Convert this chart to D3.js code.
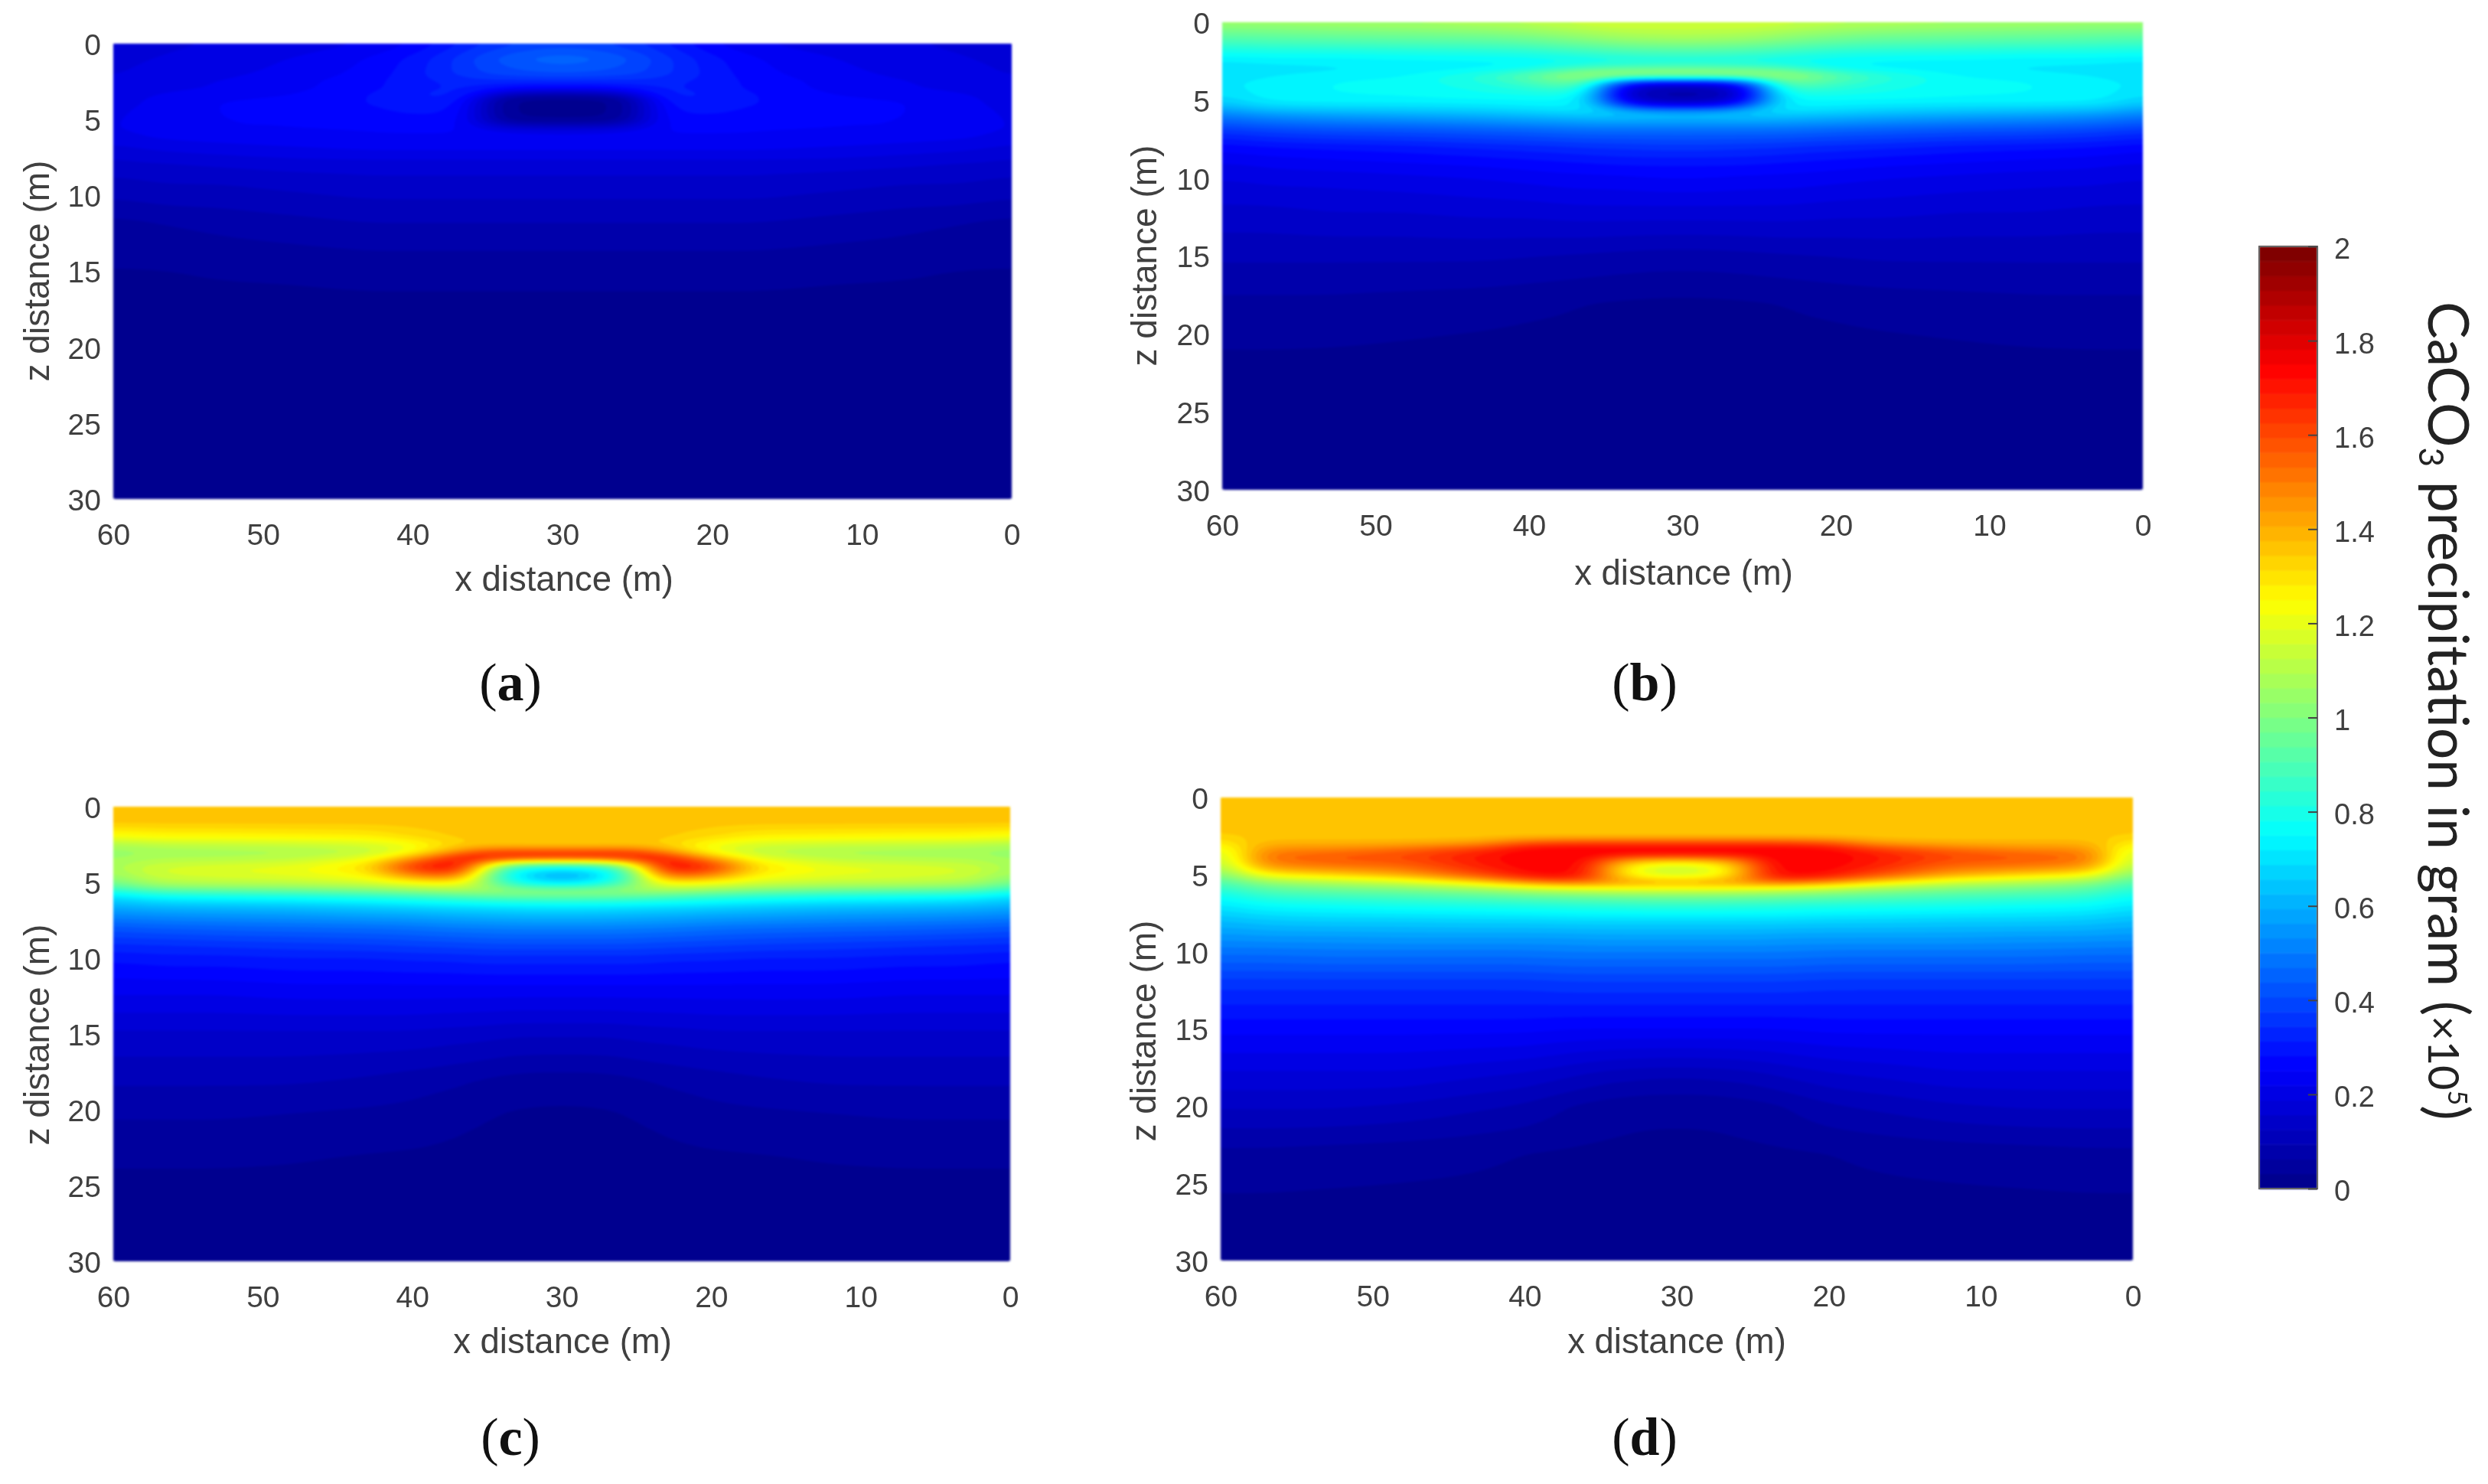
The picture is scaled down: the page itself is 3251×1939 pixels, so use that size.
<!DOCTYPE html>
<html>
<head>
<meta charset="utf-8">
<script src="https://cdn.jsdelivr.net/npm/d3@7"></script>
<style>
  html, body { margin: 0; background: #fff; }
  svg { display: block; }
  text { font-family: "Liberation Sans", Arial, sans-serif; fill: #404040; filter: blur(0.6px); }
  .panel-tag { font-family: "Liberation Serif", serif; fill: #111; font-size: 70px; }
  .panel-tag tspan { font-weight: bold; }
  .cb-title { font-family: Lato, sans-serif; fill: #222; font-size: 73px; }
</style>
</head>
<body>
<div id="chart"></div>
<script>
var xCols = [60, 59, 57, 53, 48, 43, 40, 37, 36, 35, 34, 32, 30];
var zRows = [0, 1, 2, 2.5, 3, 3.25, 3.5, 3.75, 4, 4.5, 5, 5.25, 5.5, 5.75, 6, 6.5, 7, 8, 9, 10, 12, 15, 18, 20, 23, 26, 30];

var xTicks = [60, 50, 40, 30, 20, 10, 0];
var zTicks = [0, 5, 10, 15, 20, 25, 30];
var cbTicks = [0, 0.2, 0.4, 0.6, 0.8, 1, 1.2, 1.4, 1.6, 1.8, 2];
var panelNames = ["a", "b", "c", "d"];

// CaCO3 values (x 10^5 g) read against the colour bar, one line per z row
var valuesA = [
  [.17, .17, .18, .19, .20, .22, .25, .31, .33, .35, .36, .38, .39],
  [.18, .18, .19, .20, .22, .25, .29, .35, .38, .40, .42, .45, .46],
  [.18, .19, .20, .21, .23, .26, .30, .35, .37, .38, .39, .40, .41],
  [.19, .20, .21, .22, .24, .27, .30, .32, .33, .33, .33, .33, .33],
  [.19, .20, .21, .22, .24, .27, .30, .32, .31, .29, .27, .25, .25],
  [.20, .21, .22, .23, .25, .28, .31, .33, .30, .24, .17, .12, .11],
  [.20, .21, .22, .24, .25, .28, .31, .32, .28, .14, .05, .03, .03],
  [.20, .21, .23, .25, .26, .28, .31, .31, .25, .09, .03, .02, .02],
  [.20, .21, .23, .25, .27, .28, .30, .30, .24, .08, .03, .02, .02],
  [.20, .22, .24, .25, .26, .27, .29, .28, .24, .08, .03, .02, .02],
  [.21, .22, .24, .25, .25, .26, .27, .27, .24, .10, .04, .03, .03],
  [.21, .22, .24, .25, .25, .26, .27, .26, .24, .14, .09, .07, .07],
  [.21, .22, .24, .25, .25, .25, .26, .26, .24, .20, .17, .15, .15],
  [.21, .22, .24, .25, .25, .25, .25, .25, .25, .23, .21, .20, .20],
  [.20, .21, .23, .24, .24, .25, .25, .25, .25, .24, .24, .23, .23],
  [.19, .20, .21, .22, .23, .24, .24, .24, .24, .24, .24, .24, .24],
  [.17, .18, .19, .20, .21, .22, .22, .22, .22, .22, .22, .22, .22],
  [.14, .15, .15, .16, .17, .17, .17, .17, .17, .17, .17, .17, .17],
  [.12, .12, .13, .13, .14, .15, .15, .15, .15, .15, .15, .15, .15],
  [.10, .10, .11, .11, .12, .13, .13, .13, .13, .13, .13, .13, .13],
  [.05, .05, .06, .07, .08, .09, .09, .09, .09, .09, .09, .09, .09],
  [.03, .03, .03, .034, .036, .04, .04, .04, .04, .04, .04, .04, .04],
  [.02, .02, .02, .02, .02, .02, .02, .02, .02, .02, .02, .02, .02],
  [.015, .015, .015, .015, .015, .015, .015, .015, .015, .015, .015, .015, .015],
  [.012, .012, .012, .012, .012, .012, .012, .012, .012, .012, .012, .012, .012],
  [.01, .01, .01, .01, .01, .01, .01, .01, .01, .01, .01, .01, .01],
  [.01, .01, .01, .01, .01, .01, .01, .01, .01, .01, .01, .01, .01]
];

var valuesB = [
  [1.06, 1.06, 1.06, 1.07, 1.08, 1.10, 1.12, 1.15, 1.16, 1.17, 1.17, 1.17, 1.17],
  [.92, .92, .93, .94, .95, .96, .98, 1.02, 1.03, 1.05, 1.06, 1.07, 1.08],
  [.77, .77, .78, .78, .79, .80, .81, .84, .85, .86, .87, .88, .88],
  [.72, .72, .73, .73, .74, .74, .75, .76, .77, .77, .78, .79, .79],
  [.68, .69, .70, .71, .72, .74, .77, .87, .90, .92, .93, .94, .95],
  [.68, .69, .71, .72, .74, .80, .90, 1.04, 1.07, 1.08, 1.09, 1.09, 1.09],
  [.69, .70, .72, .74, .75, .83, .93, 1.05, 1.07, 1.03, 1.00, .98, .98],
  [.70, .71, .73, .75, .76, .82, .90, 1.00, .95, .70, .50, .40, .40],
  [.70, .72, .74, .75, .76, .80, .86, .94, .85, .50, .25, .15, .15],
  [.68, .71, .74, .75, .76, .78, .80, .82, .72, .38, .15, .08, .07],
  [.66, .69, .73, .74, .74, .75, .75, .75, .68, .42, .20, .10, .09],
  [.62, .66, .70, .71, .71, .72, .73, .74, .70, .52, .32, .20, .19],
  [.58, .62, .66, .67, .68, .69, .71, .72, .71, .62, .47, .38, .37],
  [.53, .56, .60, .62, .63, .65, .67, .69, .69, .67, .63, .59, .57],
  [.49, .51, .54, .56, .58, .60, .62, .64, .65, .65, .64, .64, .63],
  [.42, .44, .46, .48, .49, .51, .53, .54, .55, .55, .55, .55, .55],
  [.35, .36, .38, .40, .41, .43, .44, .46, .46, .46, .46, .46, .46],
  [.26, .27, .28, .29, .30, .32, .33, .34, .35, .35, .35, .36, .36],
  [.22, .22, .23, .24, .25, .26, .27, .28, .28, .29, .29, .29, .29],
  [.19, .19, .20, .20, .21, .22, .23, .24, .24, .24, .24, .25, .25],
  [.15, .15, .15, .16, .16, .17, .17, .18, .18, .18, .18, .18, .18],
  [.10, .10, .10, .10, .10, .10, .095, .09, .09, .085, .085, .08, .08],
  [.055, .055, .055, .055, .05, .045, .04, .034, .03, .03, .028, .026, .025],
  [.037, .037, .037, .036, .033, .03, .026, .023, .022, .02, .02, .02, .02],
  [.02, .02, .02, .02, .02, .02, .02, .02, .02, .02, .02, .02, .02],
  [.015, .015, .015, .015, .015, .015, .015, .015, .015, .015, .015, .015, .015],
  [.01, .01, .01, .01, .01, .01, .01, .01, .01, .01, .01, .01, .01]
];

var valuesC = [
  [1.36, 1.36, 1.36, 1.36, 1.36, 1.36, 1.36, 1.36, 1.36, 1.36, 1.36, 1.36, 1.36],
  [1.36, 1.36, 1.36, 1.36, 1.36, 1.36, 1.36, 1.36, 1.36, 1.36, 1.36, 1.36, 1.36],
  [1.22, 1.23, 1.25, 1.25, 1.26, 1.27, 1.32, 1.35, 1.36, 1.36, 1.36, 1.36, 1.36],
  [1.08, 1.10, 1.12, 1.13, 1.14, 1.16, 1.22, 1.33, 1.34, 1.34, 1.34, 1.33, 1.33],
  [1.03, 1.05, 1.06, 1.07, 1.08, 1.12, 1.22, 1.45, 1.55, 1.60, 1.62, 1.62, 1.62],
  [1.04, 1.06, 1.08, 1.08, 1.10, 1.16, 1.35, 1.68, 1.72, 1.73, 1.73, 1.72, 1.72],
  [1.05, 1.08, 1.10, 1.11, 1.13, 1.22, 1.50, 1.72, 1.70, 1.60, 1.50, 1.45, 1.45],
  [1.05, 1.10, 1.13, 1.15, 1.17, 1.27, 1.60, 1.75, 1.62, 1.35, 1.12, 1.00, 1.00],
  [1.05, 1.12, 1.16, 1.18, 1.21, 1.30, 1.68, 1.75, 1.60, 1.10, .90, .78, .76],
  [1.02, 1.10, 1.16, 1.18, 1.20, 1.26, 1.50, 1.60, 1.35, .95, .82, .62, .56],
  [.95, 1.03, 1.10, 1.12, 1.13, 1.17, 1.25, 1.28, 1.20, .98, .86, .72, .68],
  [.88, .97, 1.03, 1.05, 1.06, 1.10, 1.15, 1.18, 1.15, 1.05, .95, .84, .82],
  [.80, .88, .93, .95, .97, 1.00, 1.05, 1.08, 1.08, 1.06, 1.05, 1.03, 1.03],
  [.72, .78, .83, .84, .86, .90, .94, .98, 1.00, 1.00, 1.00, 1.00, 1.00],
  [.67, .71, .74, .76, .77, .80, .83, .87, .88, .90, .91, .92, .92],
  [.60, .62, .64, .65, .66, .68, .70, .72, .72, .73, .73, .74, .74],
  [.54, .55, .56, .57, .58, .60, .61, .63, .63, .64, .64, .65, .65],
  [.42, .43, .44, .45, .46, .47, .48, .50, .50, .50, .51, .51, .51],
  [.34, .35, .35, .36, .37, .38, .39, .40, .40, .41, .41, .41, .41],
  [.29, .29, .30, .30, .31, .31, .32, .32, .33, .33, .33, .33, .33],
  [.23, .23, .23, .23, .24, .24, .24, .24, .24, .24, .24, .24, .24],
  [.15, .15, .15, .15, .15, .15, .15, .14, .14, .14, .13, .13, .13],
  [.10, .10, .10, .10, .10, .09, .08, .07, .065, .06, .055, .05, .05],
  [.07, .07, .07, .07, .065, .06, .055, .042, .038, .034, .032, .029, .028],
  [.036, .036, .036, .036, .034, .03, .028, .024, .022, .021, .02, .02, .02],
  [.02, .02, .02, .02, .02, .02, .02, .02, .02, .02, .02, .02, .02],
  [.01, .01, .01, .01, .01, .01, .01, .01, .01, .01, .01, .01, .01]
];

var valuesD = [
  [1.36, 1.36, 1.36, 1.36, 1.36, 1.36, 1.36, 1.36, 1.36, 1.36, 1.36, 1.36, 1.36],
  [1.36, 1.36, 1.36, 1.36, 1.36, 1.36, 1.36, 1.36, 1.36, 1.36, 1.36, 1.36, 1.36],
  [1.35, 1.36, 1.36, 1.36, 1.36, 1.36, 1.36, 1.36, 1.36, 1.36, 1.36, 1.36, 1.36],
  [1.33, 1.35, 1.35, 1.35, 1.35, 1.35, 1.35, 1.35, 1.35, 1.35, 1.35, 1.35, 1.35],
  [1.22, 1.33, 1.40, 1.40, 1.40, 1.44, 1.60, 1.65, 1.65, 1.65, 1.65, 1.65, 1.65],
  [1.15, 1.30, 1.45, 1.45, 1.50, 1.60, 1.73, 1.74, 1.74, 1.74, 1.74, 1.74, 1.74],
  [1.10, 1.28, 1.50, 1.52, 1.57, 1.67, 1.75, 1.75, 1.75, 1.75, 1.75, 1.75, 1.75],
  [1.05, 1.28, 1.52, 1.56, 1.60, 1.70, 1.75, 1.75, 1.75, 1.73, 1.70, 1.70, 1.70],
  [1.02, 1.28, 1.53, 1.57, 1.60, 1.70, 1.75, 1.75, 1.75, 1.62, 1.50, 1.42, 1.40],
  [.98, 1.22, 1.45, 1.50, 1.53, 1.68, 1.74, 1.75, 1.72, 1.55, 1.32, 1.17, 1.12],
  [.93, 1.10, 1.27, 1.33, 1.42, 1.60, 1.72, 1.74, 1.70, 1.55, 1.32, 1.17, 1.14],
  [.90, 1.02, 1.14, 1.20, 1.28, 1.48, 1.63, 1.70, 1.65, 1.52, 1.40, 1.30, 1.28],
  [.87, .95, 1.05, 1.10, 1.16, 1.30, 1.45, 1.53, 1.50, 1.47, 1.45, 1.44, 1.43],
  [.83, .90, .97, 1.02, 1.06, 1.15, 1.25, 1.32, 1.33, 1.32, 1.32, 1.31, 1.30],
  [.80, .86, .92, .95, .98, 1.03, 1.08, 1.12, 1.13, 1.14, 1.15, 1.16, 1.16],
  [.74, .78, .83, .85, .87, .90, .92, .94, .94, .95, .95, .96, .96],
  [.70, .73, .76, .77, .79, .80, .81, .82, .83, .83, .83, .84, .84],
  [.62, .63, .65, .66, .66, .67, .67, .68, .68, .68, .68, .68, .68],
  [.55, .55, .56, .56, .57, .57, .57, .57, .58, .58, .58, .58, .58],
  [.48, .48, .48, .49, .49, .49, .49, .50, .50, .50, .50, .50, .50],
  [.36, .36, .36, .36, .36, .36, .36, .37, .37, .37, .37, .37, .37],
  [.26, .26, .26, .26, .26, .26, .26, .25, .25, .25, .25, .25, .25],
  [.18, .18, .18, .18, .18, .16, .15, .13, .12, .11, .11, .10, .10],
  [.13, .13, .13, .13, .12, .10, .09, .06, .055, .05, .045, .04, .04],
  [.055, .055, .055, .05, .045, .038, .031, .028, .026, .025, .024, .022, .022],
  [.028, .028, .028, .026, .024, .022, .02, .02, .02, .02, .02, .02, .02],
  [.01, .01, .01, .01, .01, .01, .01, .01, .01, .01, .01, .01, .01]
];

var panelValues = [valuesA, valuesB, valuesC, valuesD];

// jet colour stops
var jetDomain = [0, 0.25, 0.75, 1.25, 1.75, 2];
var jetRange = ["#00008f", "#0000ff", "#00ffff", "#ffff00", "#ff0000", "#800000"];
var color = d3.scaleLinear().domain(jetDomain).range(jetRange).clamp(true);
var bands = d3.range(64).map(i => i * 2 / 64);
var bandColor = d => color(d * 64 / 63); // first band #00008f, last #800000, like jet(64)

// where each panel sits on the page
var layout = [
  { left: 148, right: 1322, top: 57, bottom: 652, xLabelX: 737, xLabelY: 772, yLabelX: 49, yLabelY: 354, tagX: 667, tagY: 915 },
  { left: 1597, right: 2800, top: 29, bottom: 640, xLabelX: 2200, xLabelY: 764, yLabelX: 1496, yLabelY: 334, tagX: 2149, tagY: 915 },
  { left: 148, right: 1320, top: 1054, bottom: 1648, xLabelX: 735, xLabelY: 1768, yLabelX: 49, yLabelY: 1352, tagX: 667, tagY: 1901 },
  { left: 1595, right: 2787, top: 1042, bottom: 1647, xLabelX: 2191, xLabelY: 1768, yLabelX: 1495, yLabelY: 1347, tagX: 2149, tagY: 1901 }
];

var width = 3251, height = 1939;
var svg = d3.select("#chart").append("svg")
  .attr("width", width)
  .attr("height", height);

// shading between the read values, like shading interp in the original
function sample(rows, x, z) {
  var xm = x > 30 ? x : 60 - x;
  var i = Math.max(1, Math.min(xCols.length - 1, xCols.findIndex(c => c <= xm)));
  var j = Math.max(1, Math.min(zRows.length - 1, d3.bisectLeft(zRows, z)));
  var tx = (xCols[i - 1] - xm) / (xCols[i - 1] - xCols[i]);
  var tz = (z - zRows[j - 1]) / (zRows[j] - zRows[j - 1]);
  var top = rows[j - 1][i - 1] * (1 - tx) + rows[j - 1][i] * tx;
  var bot = rows[j][i - 1] * (1 - tx) + rows[j][i] * tx;
  return top * (1 - tz) + bot * tz;
}

var nx = 240, nz = 300;
panelValues.forEach((rows, p) => {
  var box = layout[p];
  var x = d3.scaleLinear().domain([60, 0]).range([box.left, box.right]);
  var z = d3.scaleLinear().domain([0, 30]).range([box.top, box.bottom]);

  var gridX = d3.scaleLinear().domain([0, nx]).range([60, 0]);
  var gridZ = d3.scaleLinear().domain([0, nz]).range([0, 30]);

  var fine = new Float64Array(nx * nz);
  for (var j = 0; j < nz; j++) {
    for (var i = 0; i < nx; i++) {
      fine[j * nx + i] = sample(rows, gridX(i + 0.5), gridZ(j + 0.5));
    }
  }
  d3.blur2({ data: fine, width: nx, height: nz }, 4, 1.5);

  var contours = d3.contours().size([nx, nz]).smooth(true).thresholds(bands)(fine);
  var path = d3.geoPath(d3.geoTransform({
    point: function (a, b) { this.stream.point(x(gridX(a)), z(gridZ(b))); }
  }));

  var g = svg.append("g").attr("class", "panel-" + panelNames[p]);

  g.append("g")
    .style("filter", "blur(1.5px)")
    .selectAll("path")
    .data(contours)
    .enter()
    .append("path")
    .attr("d", path)
    .attr("fill", d => bandColor(d.value));

  g.append("g")
    .attr("transform", "translate(0," + (box.bottom + 7) + ")")
    .call(d3.axisBottom(x).tickValues(xTicks).tickSize(0).tickPadding(25))
    .call(a => a.select(".domain").remove())
    .selectAll("text").attr("font-size", 39).style("fill", "#404040");

  g.append("g")
    .attr("transform", "translate(" + (box.left - 8) + ",2)")
    .call(d3.axisLeft(z).tickValues(zTicks).tickSize(0).tickPadding(8))
    .call(a => a.select(".domain").remove())
    .selectAll("text").attr("font-size", 39).style("fill", "#404040");

  g.append("text")
    .attr("x", box.xLabelX).attr("y", box.xLabelY)
    .attr("text-anchor", "middle").attr("font-size", 45.5)
    .text("x distance (m)");

  g.append("text")
    .attr("transform", "translate(" + (box.yLabelX + 15) + "," + box.yLabelY + ") rotate(-90)")
    .attr("text-anchor", "middle").attr("font-size", 46)
    .text("z distance (m)");

  var tag = g.append("text")
    .attr("class", "panel-tag")
    .attr("x", box.tagX).attr("y", box.tagY)
    .attr("text-anchor", "middle");
  tag.append("tspan").style("font-weight", "normal").text("(");
  tag.append("tspan").text(panelNames[p]);
  tag.append("tspan").style("font-weight", "normal").text(")");
});

// colour bar
var cb = { left: 2952, right: 3028, top: 322, bottom: 1553 };
var cbScale = d3.scaleLinear().domain([0, 2]).range([cb.bottom, cb.top]);
var cbG = svg.append("g").attr("class", "colorbar");

cbG.append("g")
  .style("filter", "blur(1px)")
  .selectAll("rect")
  .data(bands)
  .enter()
  .append("rect")
  .attr("x", cb.left)
  .attr("width", cb.right - cb.left)
  .attr("y", d => cbScale(d + 2 / 64))
  .attr("height", d => cbScale(d) - cbScale(d + 2 / 64) + 0.5)
  .attr("fill", bandColor);

cbG.append("rect")
  .attr("x", cb.left).attr("y", cb.top)
  .attr("width", cb.right - cb.left).attr("height", cb.bottom - cb.top)
  .attr("fill", "none").attr("stroke", "#666").attr("stroke-width", 2);

var cbAxis = cbG.append("g")
  .attr("transform", "translate(" + cb.right + ",0)")
  .call(d3.axisRight(cbScale).tickValues(cbTicks).tickFormat(String).tickSizeInner(-12).tickSizeOuter(0).tickPadding(22))
  .call(a => a.select(".domain").remove());
cbAxis.selectAll("line").attr("stroke", "#444").attr("stroke-width", 2);
cbAxis.selectAll("text").attr("font-size", 38).attr("dy", "0.42em").style("fill", "#404040");

var cbTitle = cbG.append("text")
  .attr("class", "cb-title")
  .attr("transform", "translate(3173,394) rotate(90)");
cbTitle.append("tspan").text("CaCO");
cbTitle.append("tspan").attr("font-size", 44).attr("dy", 12).text("3");
cbTitle.append("tspan").attr("dy", -12).text(" precipitation in gram (");
cbTitle.append("tspan").attr("font-size", 56).text("×10");
cbTitle.append("tspan").attr("font-size", 34).attr("dy", -26).text("5");
cbTitle.append("tspan").attr("dy", 26).text(")");
</script>
</body>
</html>
